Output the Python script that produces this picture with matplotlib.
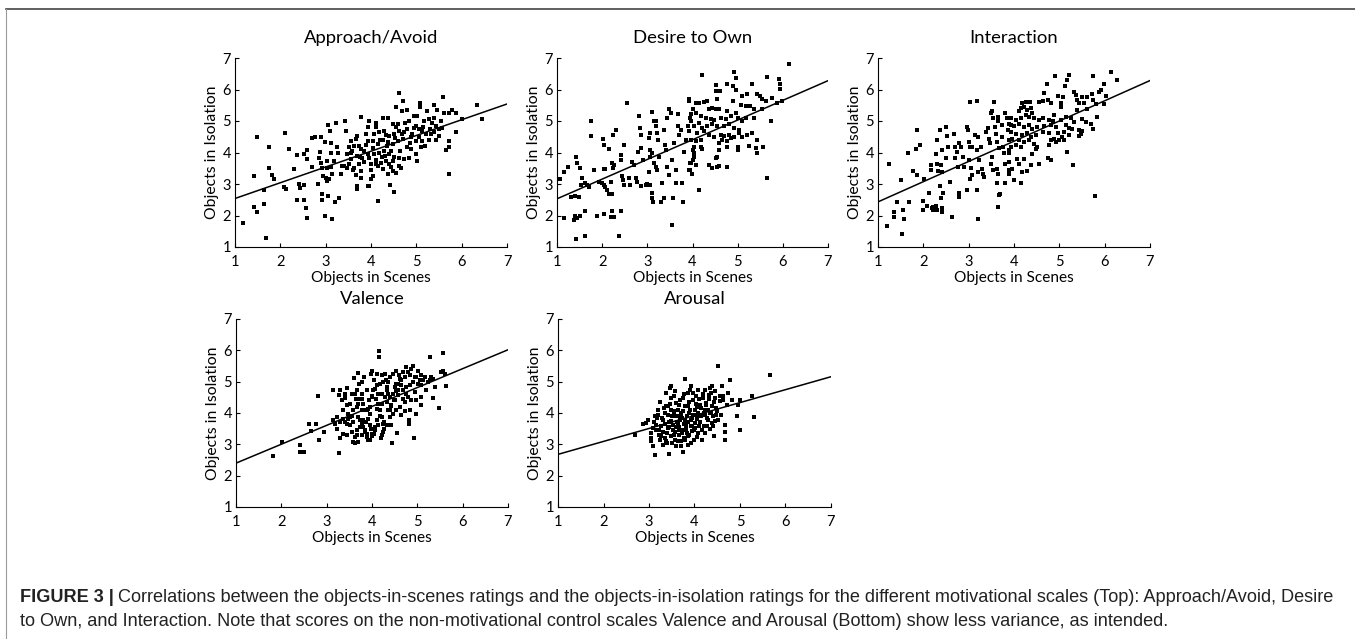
"""Figure 3: objects-in-scenes vs objects-in-isolation ratings, five scales."""
import matplotlib

matplotlib.use("Agg")
import matplotlib.pyplot as plt  # noqa: E402
import numpy as np  # noqa: E402

# ---- data ----
titles = ["Approach/Avoid", "Desire to Own", "Interaction", "Valence", "Arousal"]
x_label = "Objects in Scenes"
y_label = "Objects in Isolation"
ticks = [1, 2, 3, 4, 5, 6, 7]

# regression line: (slope, intercept)
fit_lines = [(0.50, 2.04), (0.625, 1.905), (0.642, 1.79), (0.603, 1.797), (0.413, 2.267)]

approach_pts = [
    (1.17, 1.77), (1.48, 4.50), (1.41, 3.24), (1.41, 2.28), (1.48, 2.11), (1.63, 2.81),
    (1.63, 2.36), (1.68, 1.30), (1.74, 4.18), (1.74, 3.50), (1.81, 3.29), (1.87, 3.15),
    (2.07, 2.89), (2.13, 2.83), (2.11, 4.62), (2.19, 4.11), (2.31, 3.47), (2.37, 3.92),
    (2.37, 2.49), (2.42, 2.99), (2.44, 2.87), (2.53, 2.96), (2.53, 2.48), (2.56, 2.23),
    (2.59, 1.93), (2.53, 3.95), (2.59, 4.07), (2.59, 3.79), (2.69, 3.55), (2.70, 4.46),
    (2.76, 4.48), (2.84, 2.99), (2.89, 4.50), (2.93, 2.67), (2.93, 2.48), (2.99, 1.99),
    (2.99, 4.32), (3.02, 3.50), (3.06, 2.62), (3.06, 4.88), (3.10, 4.67), (3.11, 4.30),
    (3.13, 1.88), (3.20, 2.43), (3.30, 2.57), (3.23, 4.95), (3.42, 4.99), (3.44, 4.67),
    (2.87, 4.02), (2.85, 3.81), (2.89, 3.68), (2.93, 3.52), (2.95, 3.26), (3.00, 3.20),
    (3.04, 3.73), (3.11, 3.54), (3.15, 3.31), (3.19, 3.73), (3.11, 4.00), (3.04, 3.10),
    (3.07, 3.15), (3.24, 4.16), (3.27, 4.00), (3.33, 3.31), (3.37, 3.58), (3.41, 3.58),
    (3.47, 3.52), (3.52, 3.63), (3.56, 3.79), (3.59, 4.05), (3.56, 4.00), (3.63, 3.52),
    (3.67, 3.29), (3.69, 2.83), (3.70, 2.94), (3.74, 3.63), (3.78, 3.42), (3.79, 3.20),
    (3.81, 3.84), (3.85, 4.05), (3.89, 4.58), (3.93, 4.80), (3.77, 5.13), (3.96, 5.01),
    (3.94, 4.35), (3.94, 3.95), (3.94, 2.94), (3.69, 4.53), (3.67, 4.42), (3.74, 4.21),
    (3.48, 3.95), (3.52, 4.16),
    (4.61, 5.89), (4.71, 5.62), (4.56, 5.45), (4.69, 5.33), (4.80, 5.35), (5.08, 5.56),
    (5.07, 5.45), (5.24, 5.33), (5.38, 5.52), (5.46, 5.35), (5.59, 5.75), (5.79, 5.35),
    (5.87, 5.24), (5.72, 5.24), (6.01, 5.06), (6.33, 5.51), (6.45, 5.06), (5.87, 4.66),
    (5.73, 4.37), (5.73, 4.16), (5.65, 4.07), (5.73, 3.33), (3.96, 5.01), (4.11, 4.95),
    (4.26, 5.11), (4.37, 5.11), (4.48, 4.90), (4.59, 4.92), (4.84, 5.01), (4.95, 5.17),
    (5.02, 5.17), (5.17, 5.01), (5.28, 5.06), (5.35, 4.95), (5.43, 4.85), (5.54, 4.99),
    (5.57, 4.77), (5.39, 4.64), (5.32, 4.58), (5.21, 4.60), (5.13, 4.69), (5.06, 4.74),
    (4.95, 4.77), (4.80, 4.74), (4.73, 4.64), (4.62, 4.69), (4.51, 4.60), (4.40, 4.53),
    (4.29, 4.69), (4.18, 4.64), (4.07, 4.58), (4.04, 4.37), (4.15, 4.27), (4.26, 4.39),
    (4.37, 4.32), (4.48, 4.27), (4.59, 4.37), (4.70, 4.42), (4.88, 4.48), (4.99, 4.37),
    (5.13, 4.37), (5.28, 4.39), (5.43, 4.39), (5.50, 4.53), (4.80, 4.16), (4.88, 4.11),
    (4.99, 3.95), (5.02, 3.73), (5.10, 4.16), (4.84, 3.84), (4.73, 3.79), (4.62, 3.84),
    (4.51, 3.86), (4.40, 3.95), (4.29, 4.05), (4.18, 4.00), (4.07, 3.95), (3.96, 3.84),
    (4.00, 3.63), (4.11, 3.63), (4.22, 3.68), (4.33, 3.73), (4.40, 3.63), (4.48, 3.73),
    (4.62, 3.58), (4.66, 3.52), (4.55, 3.36), (4.48, 3.42), (4.37, 3.31), (4.26, 3.47),
    (4.15, 3.58), (4.04, 3.26), (4.00, 3.15), (3.96, 2.94), (4.42, 2.96), (4.51, 2.75),
    (4.15, 2.46),
    (3.55, 4.35), (3.62, 4.20), (3.70, 3.90), (3.78, 4.10), (3.85, 3.70), (3.90, 4.25),
    (4.05, 4.15), (4.10, 4.80), (4.20, 4.40), (4.25, 3.85), (4.32, 4.55), (4.35, 4.20),
    (4.45, 4.05), (4.52, 4.45), (4.55, 4.80), (4.65, 4.05), (4.68, 4.60), (4.75, 4.95),
    (4.85, 4.30), (4.90, 4.60), (5.00, 4.85), (5.05, 4.50), (5.15, 4.80), (5.20, 4.20),
    (5.30, 4.75), (5.40, 5.10), (5.50, 4.75), (5.60, 5.25), (3.60, 3.45), (3.75, 3.85),
    (4.00, 3.45), (4.10, 3.75), (4.30, 3.90), (4.45, 3.55),
]

desire_pts = [
    (1.41, 1.25), (1.63, 1.34), (2.37, 1.34), (1.15, 1.91), (1.37, 1.86), (1.39, 1.97),
    (1.44, 1.91), (1.52, 1.98), (1.61, 2.14), (1.89, 2.00), (2.05, 2.05), (2.21, 2.14),
    (2.19, 1.95), (2.26, 1.95), (2.41, 2.13), (1.30, 2.59), (1.39, 2.62), (1.48, 2.59),
    (1.07, 3.16), (1.15, 3.39), (1.24, 3.55), (1.41, 3.87), (1.44, 3.66), (1.52, 3.50),
    (1.56, 3.18), (1.54, 2.96), (1.63, 3.02), (1.67, 2.96), (1.70, 2.91), (1.76, 4.99),
    (1.76, 4.53), (1.81, 3.44), (1.93, 3.07), (1.99, 3.02), (2.04, 2.96), (2.07, 2.91),
    (2.11, 2.80), (2.15, 2.67), (2.22, 2.67), (2.19, 3.07), (2.04, 3.47), (2.07, 3.47),
    (2.02, 4.43), (2.05, 4.25), (2.15, 4.12), (2.24, 4.57), (2.30, 4.70), (2.22, 3.66),
    (2.26, 3.60), (2.24, 3.50), (2.41, 3.93), (2.41, 3.76), (2.48, 4.25), (2.43, 3.25),
    (2.46, 3.12), (2.48, 2.96), (2.56, 5.56), (2.59, 3.18), (2.61, 2.96), (2.67, 3.71),
    (2.70, 3.60), (2.74, 3.18), (2.78, 3.07), (2.80, 4.03), (2.81, 5.16), (2.83, 4.78),
    (2.85, 4.57), (2.87, 4.14), (2.90, 3.76), (2.85, 2.93), (2.96, 2.96), (3.00, 3.00),
    (3.07, 4.62), (3.10, 5.28), (3.04, 4.46), (3.07, 4.09), (3.11, 3.98), (3.07, 3.87),
    (3.04, 3.39), (3.07, 2.96), (3.10, 2.70), (3.11, 2.54), (3.13, 2.43), (3.15, 4.99),
    (3.19, 4.99), (3.20, 4.83), (3.22, 4.62), (3.24, 4.41), (3.15, 3.66), (3.19, 3.55),
    (3.22, 3.44), (3.26, 3.87), (3.30, 2.43), (3.33, 3.02), (3.36, 2.54), (3.37, 4.73),
    (3.39, 4.25), (3.41, 4.09), (3.44, 5.10), (3.48, 5.37), (3.52, 5.26), (3.44, 3.55),
    (3.48, 3.28), (3.54, 3.76), (3.54, 1.70), (3.57, 2.54), (3.59, 4.30), (3.63, 3.44),
    (3.67, 5.21), (3.69, 4.83), (3.70, 4.57), (3.74, 4.73), (3.64, 3.04), (3.76, 3.04),
    (3.78, 2.43), (3.81, 4.03), (3.85, 4.41), (3.89, 4.83), (3.93, 5.69), (3.95, 5.10),
    (3.95, 3.66), (3.94, 3.44),
    (6.13, 6.81), (4.21, 6.47), (4.92, 6.55), (4.96, 6.35), (4.51, 6.14), (4.77, 6.17),
    (4.90, 6.10), (4.96, 5.99), (5.31, 6.17), (5.65, 6.39), (5.91, 6.33), (5.93, 6.17),
    (5.93, 6.01), (4.51, 5.96), (4.61, 5.96), (4.55, 5.69), (5.10, 5.80), (5.21, 5.85),
    (5.43, 5.85), (5.49, 5.80), (5.54, 5.69), (5.62, 5.64), (5.76, 5.74), (5.87, 5.58),
    (5.99, 5.64), (4.90, 5.64), (3.93, 5.64), (4.07, 5.56), (4.15, 5.56), (4.26, 5.60),
    (4.33, 5.64), (4.37, 5.39), (4.44, 5.42), (4.51, 5.39), (4.59, 5.37), (4.77, 5.32),
    (4.96, 5.24), (5.07, 5.50), (5.18, 5.48), (5.27, 5.48), (5.36, 5.37), (5.54, 5.37),
    (4.00, 5.37), (3.96, 5.21), (4.07, 5.24), (4.18, 5.16), (4.29, 5.10), (4.40, 5.05),
    (4.48, 5.03), (4.62, 5.10), (4.74, 5.07), (4.85, 5.16), (5.00, 5.10), (5.10, 4.99),
    (5.18, 5.10), (5.36, 5.10), (5.73, 4.99), (3.96, 4.99), (4.15, 4.94), (4.04, 4.83),
    (4.22, 4.78), (4.33, 4.83), (4.44, 4.89), (4.55, 4.83), (4.70, 4.83), (4.81, 4.89),
    (4.92, 4.78), (5.03, 4.73), (3.93, 4.67), (4.11, 4.62), (4.26, 4.67), (4.37, 4.57),
    (4.48, 4.49), (4.62, 4.57), (4.70, 4.51), (4.81, 4.57), (4.92, 4.49), (5.03, 4.62),
    (5.10, 4.49), (5.21, 4.57), (5.32, 4.62), (3.96, 4.41), (4.07, 4.35), (4.18, 4.39),
    (4.66, 4.41), (4.77, 4.35), (4.85, 4.46), (5.25, 4.21), (5.43, 4.39), (5.57, 4.19),
    (5.40, 4.14), (5.43, 3.98), (5.00, 4.19), (5.00, 4.09), (4.77, 4.19), (4.59, 4.30),
    (4.59, 4.09), (4.55, 3.87), (4.51, 3.82), (4.04, 4.19), (4.00, 4.09), (4.18, 4.19),
    (4.22, 4.11), (4.04, 3.98), (4.04, 3.87), (4.00, 3.76), (3.96, 3.66), (4.07, 3.60),
    (3.93, 3.44), (3.98, 3.32), (4.37, 3.60), (4.44, 3.50), (4.55, 3.55), (4.59, 3.57),
    (4.76, 3.55), (5.65, 3.20), (4.15, 2.80),
]

interaction_pts = [
    (1.19, 1.67), (1.54, 1.42), (1.24, 3.65), (1.36, 2.12), (1.36, 1.96), (1.43, 2.43),
    (1.56, 2.19), (1.57, 1.90), (1.50, 3.12), (1.68, 2.43), (1.67, 3.97), (1.78, 3.41),
    (1.84, 4.10), (1.87, 3.28), (1.85, 4.71), (1.93, 4.25), (2.02, 3.17), (2.00, 2.47),
    (1.99, 2.17), (2.07, 2.30), (2.13, 2.72), (2.17, 3.60), (2.17, 3.46), (2.19, 2.24),
    (2.22, 2.17), (2.27, 2.30), (2.30, 2.17), (2.22, 2.28), (2.30, 3.65), (2.32, 3.42),
    (2.27, 3.95), (2.30, 4.39), (2.36, 4.71), (2.41, 4.07), (2.39, 3.60), (2.41, 3.39),
    (2.37, 2.93), (2.43, 2.70), (2.39, 2.54), (2.41, 2.25), (2.41, 2.10), (2.50, 4.81),
    (2.52, 4.52), (2.54, 4.18), (2.50, 3.84), (2.59, 3.07), (2.63, 1.96), (2.67, 4.60),
    (2.69, 4.18), (2.70, 3.81), (2.74, 4.02), (2.76, 3.54), (2.79, 2.70), (2.79, 2.59),
    (2.79, 4.31), (2.84, 4.18), (2.87, 3.86), (2.89, 3.54), (2.96, 4.81), (2.99, 4.71),
    (3.00, 4.34), (3.00, 3.76), (2.96, 2.80), (3.04, 5.61), (3.19, 5.64), (3.04, 4.18),
    (3.07, 4.18), (3.06, 3.52), (3.07, 3.28), (3.04, 3.17), (3.15, 4.55), (3.19, 4.07),
    (3.21, 4.48), (3.22, 3.76), (3.21, 3.39), (3.19, 2.80), (3.20, 1.90), (3.28, 4.16),
    (3.30, 3.49), (3.32, 3.33), (3.33, 3.21), (3.39, 4.66), (3.43, 4.79), (3.44, 4.44),
    (3.48, 4.29), (3.50, 5.24), (3.52, 5.32), (3.56, 5.61), (3.54, 5.08), (3.52, 3.86),
    (3.50, 3.65), (3.53, 3.44), (3.59, 4.81), (3.61, 4.60), (3.63, 4.34), (3.65, 5.13),
    (3.65, 5.01), (3.67, 4.13), (3.63, 3.49), (3.65, 3.33), (3.63, 3.02), (3.67, 2.65),
    (3.64, 2.28), (3.70, 2.68), (3.73, 4.87), (3.74, 4.50), (3.76, 4.18), (3.78, 3.97),
    (3.80, 3.65), (3.81, 5.24), (3.81, 3.04), (3.85, 5.08), (3.87, 4.71), (3.89, 4.39),
    (3.90, 4.07), (3.90, 3.44), (3.93, 4.87),
    (6.13, 6.56), (4.90, 6.42), (5.21, 6.46), (5.18, 6.30), (5.75, 6.42), (6.28, 6.30),
    (4.72, 6.19), (5.13, 6.11), (5.99, 6.19), (5.91, 6.00), (5.88, 5.93), (4.66, 5.89),
    (5.32, 5.93), (5.36, 5.82), (4.96, 5.79), (5.07, 5.75), (5.51, 5.77), (5.62, 5.77),
    (5.73, 5.87), (6.03, 5.79), (4.18, 5.58), (4.26, 5.61), (4.35, 5.61), (4.55, 5.61),
    (4.65, 5.64), (4.74, 5.66), (4.81, 5.58), (5.03, 5.58), (5.40, 5.66), (5.43, 5.58),
    (5.54, 5.56), (5.75, 5.68), (5.80, 5.53), (5.99, 5.53), (4.15, 5.40), (4.22, 5.45),
    (4.29, 5.34), (4.37, 5.40), (4.11, 5.32), (5.03, 5.43), (5.40, 5.34), (5.62, 5.37),
    (3.93, 5.08), (4.04, 5.03), (4.15, 5.08), (4.26, 5.19), (4.33, 5.13), (4.40, 5.24),
    (4.44, 5.08), (4.55, 5.03), (4.63, 5.08), (4.77, 5.03), (4.85, 5.01), (4.88, 5.19),
    (5.03, 5.03), (5.14, 5.13), (5.25, 5.08), (5.32, 4.97), (5.51, 5.05), (5.58, 4.97),
    (5.69, 4.92), (5.84, 5.13), (3.89, 4.90), (4.00, 4.84), (4.11, 4.90), (4.22, 4.81),
    (4.33, 4.87), (4.40, 4.76), (4.51, 4.81), (4.66, 4.84), (4.81, 4.87), (4.92, 4.81),
    (5.14, 4.87), (5.21, 4.79), (5.29, 4.76), (5.43, 4.71), (5.51, 4.69), (5.75, 4.74),
    (3.93, 4.66), (4.04, 4.58), (4.18, 4.55), (4.29, 4.62), (4.37, 4.48), (4.48, 4.55),
    (4.63, 4.66), (4.77, 4.62), (4.96, 4.62), (5.10, 4.66), (5.21, 4.55), (5.43, 4.52),
    (5.47, 4.60), (3.96, 4.44), (4.11, 4.39), (4.22, 4.34), (4.33, 4.41), (4.81, 4.41),
    (4.88, 4.44), (4.92, 4.34), (4.99, 4.39), (5.06, 4.48), (5.10, 4.39), (3.93, 4.18),
    (4.04, 4.23), (4.15, 4.16), (4.44, 4.26), (4.51, 4.18), (4.48, 4.10), (4.77, 4.23),
    (5.18, 4.02), (3.89, 3.97), (4.40, 3.95), (3.89, 3.70), (4.07, 3.78), (4.22, 3.78),
    (4.11, 3.65), (4.76, 3.84), (4.81, 3.76), (4.38, 3.60), (4.55, 3.63), (3.96, 3.49),
    (3.89, 3.33), (4.18, 3.39), (4.29, 3.42), (4.00, 3.12), (4.16, 3.02), (5.30, 3.60),
    (5.78, 2.62),
]

valence_pts = [
    (1.82, 2.62), (2.02, 3.08), (2.41, 2.97), (2.42, 2.76), (2.50, 2.76), (2.62, 3.66),
    (2.65, 3.43), (2.76, 3.64), (2.81, 4.53), (2.83, 3.15), (2.94, 3.38), (3.14, 4.74),
    (3.14, 3.77), (3.18, 3.66), (3.22, 3.48), (3.27, 2.71), (3.29, 3.19), (3.37, 3.34),
    (3.27, 4.56), (3.33, 4.40), (3.37, 4.08), (3.40, 4.61), (3.44, 4.80), (3.47, 3.98),
    (3.51, 3.61), (3.58, 3.08), (3.62, 3.03), (3.60, 5.11), (3.69, 5.27), (3.72, 4.93),
    (3.64, 4.46), (3.66, 4.19), (3.69, 3.87), (3.73, 3.56), (3.77, 3.29), (3.79, 4.61),
    (3.82, 5.14), (3.84, 4.08), (3.86, 3.71), (3.88, 3.34), (3.89, 4.72), (3.94, 4.40),
    (3.95, 3.98), (3.97, 3.50), (3.98, 5.25), (4.01, 3.26), (4.04, 5.04), (4.06, 4.77),
    (4.08, 4.46), (4.10, 4.14), (4.11, 3.77), (4.16, 5.99), (4.16, 5.80), (4.17, 4.93),
    (4.21, 4.61), (4.23, 4.30), (4.25, 3.40), (4.28, 5.25), (4.30, 5.04), (4.33, 4.72),
    (4.36, 4.08), (4.39, 3.87), (4.43, 3.61), (4.45, 3.03), (4.47, 5.25), (4.48, 4.40),
    (4.50, 4.83), (4.54, 5.35), (4.55, 3.37), (4.57, 4.56), (4.61, 4.19), (4.65, 5.04),
    (4.69, 4.72), (4.72, 4.35), (4.76, 5.46), (4.80, 5.30), (4.82, 3.77), (4.82, 3.66),
    (4.83, 4.88), (4.87, 4.40), (4.91, 5.51), (4.92, 3.19), (4.94, 5.14), (4.96, 4.42),
    (5.02, 4.93), (5.07, 4.24), (5.09, 5.20), (5.13, 5.04), (5.20, 4.75), (5.27, 5.80),
    (5.27, 5.04), (5.31, 5.14), (5.35, 4.49), (5.48, 4.17), (5.53, 5.30), (5.57, 5.92),
    (5.64, 4.86), (3.99, 5.35), (3.77, 4.99), (3.51, 4.30), (3.58, 4.08), (3.81, 3.77),
    (3.95, 3.61), (4.04, 3.34), (4.13, 4.61), (4.25, 4.98), (4.32, 4.35), (4.39, 4.51),
    (4.47, 3.98), (4.57, 4.93), (4.65, 3.93), (4.76, 4.61), (3.47, 3.82), (3.40, 3.71),
    (3.77, 4.46), (3.55, 3.90), (3.62, 4.62), (3.70, 4.30), (3.92, 4.12), (4.00, 4.55),
    (4.18, 3.92), (4.27, 3.70), (4.41, 4.22), (4.52, 4.70), (4.60, 5.20), (4.73, 4.05),
    (3.85, 3.45), (3.96, 3.15), (4.07, 3.55), (4.20, 3.20), (3.68, 3.30), (3.45, 3.30),
    (3.29, 4.72), (3.40, 4.49), (3.44, 4.24), (3.55, 4.61), (3.66, 4.72), (3.73, 4.46),
    (3.80, 4.30), (3.88, 4.08), (3.91, 3.82), (3.95, 4.19), (3.99, 4.51), (4.02, 4.72),
    (4.10, 4.88), (4.14, 4.30), (4.17, 4.08), (4.21, 3.87), (4.25, 3.66), (4.28, 4.51),
    (4.32, 4.83), (4.36, 4.98), (4.39, 5.14), (4.43, 4.24), (4.47, 4.61), (4.50, 4.40),
    (4.54, 4.08), (4.58, 4.72), (4.61, 5.09), (4.65, 4.88), (4.69, 5.30), (4.72, 5.14),
    (4.76, 4.83), (4.80, 4.51), (4.83, 5.20), (4.87, 5.41), (4.91, 4.98), (4.94, 4.67),
    (4.98, 5.14), (5.02, 5.35), (5.05, 5.04), (5.09, 4.88), (5.16, 5.14), (5.24, 4.98),
    (5.35, 5.09), (5.38, 4.83), (5.57, 5.35), (5.60, 5.25), (3.77, 4.08), (3.80, 3.56),
    (3.84, 3.40), (3.88, 3.24), (3.91, 3.13), (3.99, 3.34), (4.06, 3.45), (4.14, 3.61),
    (4.21, 3.29), (4.26, 3.50), (4.32, 3.61), (4.39, 4.08), (3.51, 3.87), (3.58, 3.71),
    (3.66, 3.45), (3.73, 3.77), (3.22, 3.87), (3.29, 3.71), (3.36, 3.82), (3.44, 3.66),
    (3.55, 3.40), (3.62, 3.24), (3.69, 3.08), (3.77, 3.66), (4.10, 5.25), (4.21, 5.20),
    (4.36, 4.61), (4.54, 4.93), (4.69, 4.46), (4.83, 4.08), (4.98, 3.98), (5.09, 4.51),
]

arousal_pts = [
    (2.69, 3.31), (2.87, 3.66), (2.93, 3.68), (2.98, 3.79), (3.04, 3.37), (3.04, 3.21),
    (3.05, 3.10), (3.09, 2.94), (3.13, 2.66), (3.13, 3.89), (3.16, 3.63), (3.20, 4.11),
    (3.22, 3.47), (3.24, 4.34), (3.27, 3.26), (3.31, 2.99), (3.31, 3.79), (3.35, 4.00),
    (3.38, 4.63), (3.38, 4.21), (3.41, 3.52), (3.44, 2.68), (3.46, 4.79), (3.48, 4.48),
    (3.49, 4.85), (3.51, 3.89), (3.53, 3.63), (3.55, 3.31), (3.57, 3.15), (3.58, 4.69),
    (3.60, 4.32), (3.63, 4.11), (3.66, 3.47), (3.68, 3.79), (3.70, 3.10), (3.71, 2.94),
    (3.74, 2.75), (3.75, 4.48), (3.79, 5.08), (3.80, 4.21), (3.82, 3.58), (3.85, 3.26),
    (3.86, 4.63), (3.88, 4.00), (3.90, 4.74), (3.92, 3.79), (3.93, 4.87), (3.95, 3.42),
    (3.97, 4.42), (3.99, 3.15), (4.01, 4.11), (4.02, 3.68), (4.04, 4.53), (4.07, 4.72),
    (4.08, 3.37), (4.12, 4.26), (4.15, 3.89), (4.17, 3.15), (4.19, 4.48), (4.21, 3.58),
    (4.23, 4.74), (4.24, 4.11), (4.26, 4.32), (4.30, 3.79), (4.32, 4.58), (4.34, 4.79),
    (4.36, 4.00), (4.38, 4.85), (4.39, 4.21), (4.41, 3.58), (4.43, 3.26), (4.45, 4.48),
    (4.46, 4.69), (4.48, 4.16), (4.52, 5.50), (4.52, 3.79), (4.56, 4.37), (4.60, 4.87),
    (4.63, 4.53), (4.67, 3.63), (4.67, 3.39), (4.68, 3.13), (4.71, 4.26), (4.74, 4.63),
    (4.78, 5.04), (4.82, 4.42), (4.93, 3.89), (4.95, 4.26), (5.00, 4.42), (5.00, 3.47),
    (5.26, 4.55), (5.31, 3.86), (5.67, 5.20), (3.42, 4.21), (3.49, 4.11), (3.57, 3.89),
    (3.64, 3.68), (3.71, 4.00), (3.75, 3.47), (3.79, 3.79), (3.86, 4.21), (3.93, 3.58),
    (4.08, 3.89), (4.23, 3.37), (4.30, 4.11), (4.38, 3.68), (3.27, 3.58), (3.35, 3.21),
    (3.49, 3.26), (3.63, 3.10), (3.86, 2.99), (4.01, 3.52), (3.09, 3.52), (3.30, 3.40),
    (3.45, 3.70), (3.60, 3.55), (3.72, 3.85), (3.84, 3.35), (3.96, 3.95), (4.10, 3.60),
    (4.20, 4.00), (4.34, 3.48), (4.47, 3.95), (3.18, 3.85), (3.40, 3.05), (3.56, 4.05),
    (3.66, 3.30), (3.78, 3.20), (3.92, 3.05), (4.05, 4.20), (4.27, 3.85), (3.52, 3.45),
    (3.10, 3.70), (3.15, 3.45), (3.20, 3.95), (3.25, 3.15), (3.28, 3.85), (3.32, 4.15),
    (3.36, 3.65), (3.40, 3.35), (3.42, 3.95), (3.46, 4.30), (3.48, 3.75), (3.50, 3.05),
    (3.54, 4.00), (3.56, 4.55), (3.58, 3.40), (3.61, 3.90), (3.62, 3.70), (3.65, 4.25),
    (3.67, 3.55), (3.69, 4.40), (3.72, 3.35), (3.74, 4.05), (3.76, 3.65), (3.78, 4.60),
    (3.80, 3.15), (3.83, 3.90), (3.85, 3.70), (3.87, 4.35), (3.89, 3.30), (3.91, 4.10),
    (3.94, 3.85), (3.96, 4.65), (3.98, 3.45), (4.00, 3.95), (4.03, 4.30), (4.05, 3.25),
    (4.07, 4.00), (4.10, 4.45), (4.12, 3.70), (4.14, 4.15), (4.16, 3.45), (4.18, 4.60),
    (4.22, 3.95), (4.25, 4.25), (4.28, 3.60), (4.31, 4.45), (4.33, 4.00), (4.36, 4.65),
    (4.40, 3.90), (4.42, 4.35), (4.44, 3.75), (4.50, 4.05), (4.55, 4.55), (4.58, 3.95),
    (4.62, 4.40), (3.22, 3.30), (3.38, 3.10), (3.60, 2.95), (3.45, 3.55), (3.70, 3.90),
    (3.82, 3.50), (3.95, 3.60), (4.05, 3.80),
]

panel_pts = [approach_pts, desire_pts, interaction_pts, valence_pts, arousal_pts]

caption_head = "FIGURE 3 |"
caption_line1 = ("Correlations between the objects-in-scenes ratings and the objects-in-isolation "
                 "ratings for the different motivational scales (Top): Approach/Avoid, Desire")
caption_line2 = ("to Own, and Interaction. Note that scores on the non-motivational control scales "
                 "Valence and Arousal (Bottom) show less variance, as intended.")

# axes boxes in pixels: left, top, right, bottom (figure is 1355 x 639)
W, H = 1355, 639
boxes = [
    (235, 58, 507, 247),
    (557, 58, 828, 247),
    (878, 58, 1150, 247),
    (236, 319, 508, 507),
    (558, 319, 831, 507),
]

plt.rcParams["font.family"] = ["Lato", "DejaVu Sans"]

fig = plt.figure(figsize=(W / 100, H / 100), dpi=100)

for i, (l, t, r, b) in enumerate(boxes):
    ax = fig.add_axes([l / W, 1 - b / H, (r - l) / W, (b - t) / H])
    pts = np.array(panel_pts[i])
    ax.plot(pts[:, 0], pts[:, 1], "s", color="black", markersize=3.1,
            markeredgewidth=0)
    slope, icpt = fit_lines[i]
    xl = np.array([1, 7])
    ax.plot(xl, slope * xl + icpt, "-", color="black", linewidth=1.1)
    ax.set_xlim(1, 7)
    ax.set_ylim(1, 7)
    ax.set_xticks(ticks)
    ax.set_yticks(ticks)
    ax.tick_params(direction="in", length=3, width=0.8, labelsize=10.5)
    ax.tick_params(axis="x", pad=6)
    ax.tick_params(axis="y", pad=3)
    for side in ("top", "right"):
        ax.spines[side].set_visible(False)
    for side in ("left", "bottom"):
        ax.spines[side].set_linewidth(0.8)
    ax.set_title(titles[i], fontsize=13.3, pad=11)
    ax.set_xlabel(x_label, fontsize=11.1, labelpad=1)
    ax.set_ylabel(y_label, fontsize=11.3, labelpad=2)

# frame lines around the figure panel
fig.add_artist(plt.Line2D([6 / W, 1], [1 - 8.5 / H, 1 - 8.5 / H], color="#444444", linewidth=1.2))
fig.add_artist(plt.Line2D([6 / W, 6 / W], [0, 1 - 8.5 / H], color="#9a9a9a", linewidth=0.8))

# caption: bold head, then the rest of line 1 placed right after it
cap_font = ["Liberation Sans", "DejaVu Sans"]
cap_size = 13.05
head = fig.text(20 / W, 1 - 597 / H, caption_head, fontsize=cap_size, fontweight="bold",
                family=cap_font, va="center", color="#222222")
renderer = fig.canvas.get_renderer()
head_right = head.get_window_extent(renderer).x1
fig.text((head_right + 4) / W, 1 - 597 / H, caption_line1, fontsize=cap_size,
         family=cap_font, va="center", color="#222222")
fig.text(20 / W, 1 - 621 / H, caption_line2, fontsize=cap_size, family=cap_font,
         va="center", color="#222222")

fig.savefig("out.png", dpi=100)
plt.close(fig)
